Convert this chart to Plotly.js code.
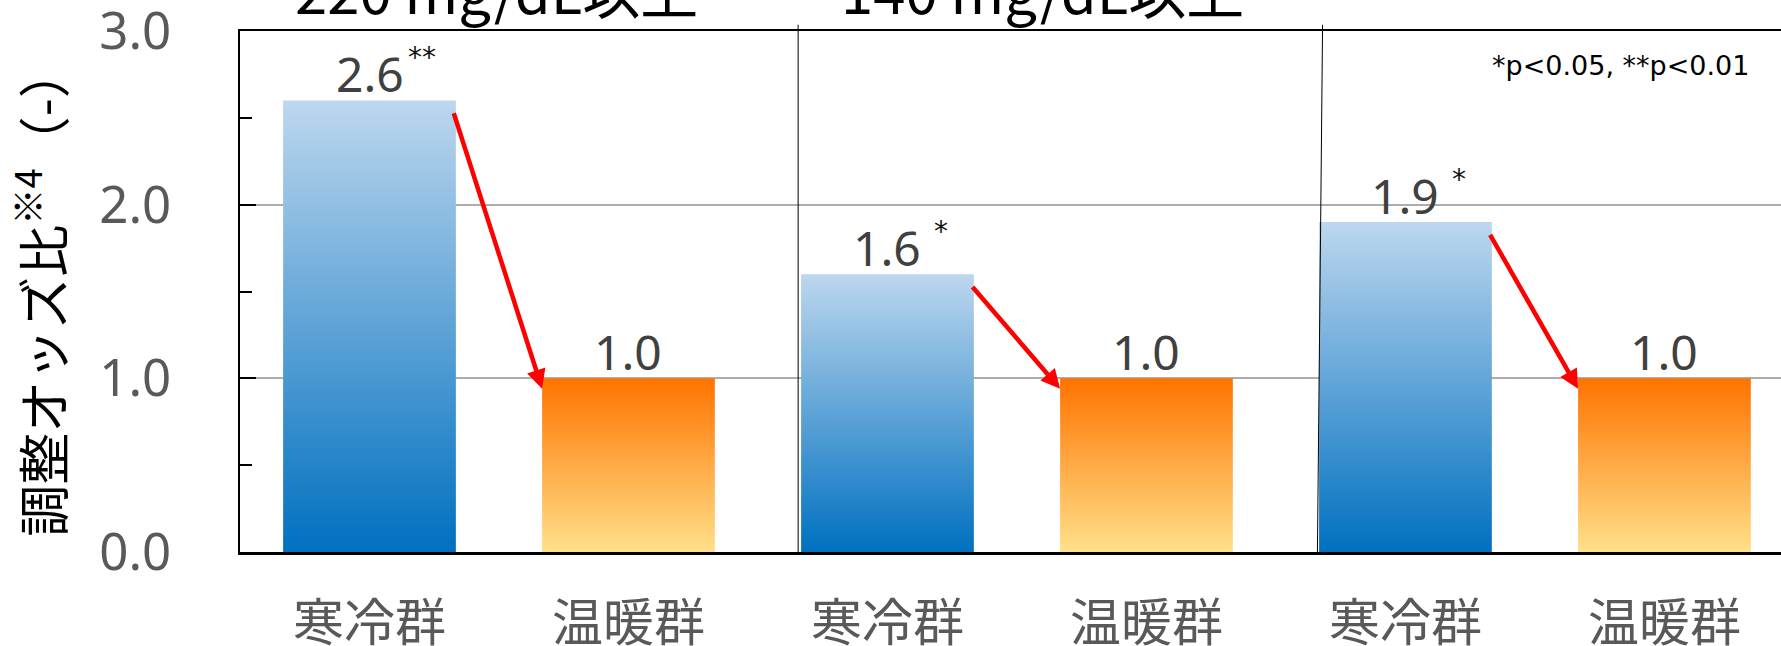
<!DOCTYPE html>
<html><head><meta charset="utf-8">
<script src="https://cdn.plot.ly/plotly-3.0.1.min.js"></script>
<style>html,body{margin:0;padding:0;background:#fff;} #chart{width:1781px;height:646px;}</style>
</head><body><div id="chart"></div>
<script>
// ---- data ----
const categories = ["寒冷群","温暖群","寒冷群","温暖群","寒冷群","温暖群"];
const groupTitles = ["220 mg/dL以上","140 mg/dL以上"];
const coldValues = [2.6, 1.6, 1.9];
const warmValues = [1.0, 1.0, 1.0];
const significance = ["**","*","*"];
const yTickVals = [0, 1, 2, 3];
const yTickText = ["0.0","1.0","2.0","3.0"];
const yTitle = "調整オッズ比<sup>※4</sup>（-）";
const pNote = "*p<0.05, **p<0.01";

// ---- derived ----
const catX = categories.map((_, i) => i);
const coldX = coldValues.map((_, i) => 2 * i);
const warmX = warmValues.map((_, i) => 2 * i + 1);
const barW = 0.667;
const numFont = "Noto Sans, Noto Sans CJK JP, sans-serif";
const cjkFont = "Noto Sans CJK JP, Noto Sans, sans-serif";

const traces = [
  {type: "bar", x: coldX, y: coldValues, width: barW, marker: {color: "#5B9BD5", line: {width: 0}}, hoverinfo: "skip"},
  {type: "bar", x: warmX, y: warmValues, width: barW, marker: {color: "#FFA64D", line: {width: 0}}, hoverinfo: "skip"}
];

const annotations = [];
// value labels
coldValues.forEach((v, i) => {
  annotations.push({x: coldX[i], y: v, xref: "x", yref: "y", text: v.toFixed(1), showarrow: false,
    yanchor: "bottom", xanchor: "center", yshift: -8, font: {family: numFont, size: 48, color: "#404040"}});
  annotations.push({x: coldX[i], y: v, xref: "x", yref: "y", text: (significance[i].length === 1 ? "\u00a0" : "") + significance[i],
    showarrow: false, yanchor: "bottom", xanchor: "left", xshift: 36, yshift: 24, font: {family: "DejaVu Sans, sans-serif", size: 28, color: "#111111"}});
});
warmValues.forEach((v, i) => {
  annotations.push({x: warmX[i], y: v, xref: "x", yref: "y", text: v.toFixed(1), showarrow: false,
    yanchor: "bottom", xanchor: "center", yshift: -8, font: {family: numFont, size: 48, color: "#404040"}});
});
// arrows
coldValues.forEach((v, i) => {
  annotations.push({x: warmX[i] - barW / 2, y: warmValues[i] - 0.06, xref: "x", yref: "y",
    ax: coldX[i] + barW / 2 - 0.01, ay: v - 0.065, axref: "x", ayref: "y",
    showarrow: true, text: "", arrowhead: 2, arrowsize: 0.85, arrowwidth: 4.5, arrowcolor: "#FF0000", standoff: 0, startstandoff: 0});
});
// group titles
const titleX = [0.49, 2.6];
groupTitles.forEach((t, i) => {
  annotations.push({x: titleX[i], y: 1, xref: "x", yref: "paper", text: t, showarrow: false,
    yanchor: "bottom", xanchor: "center", yshift: -2, font: {family: cjkFont, size: 58, color: "#000000"}});
});
// p-value note
annotations.push({x: 4.83, y: 2.8, xref: "x", yref: "y", text: pNote, showarrow: false,
  xanchor: "center", yanchor: "middle", font: {family: "DejaVu Sans, sans-serif", size: 27, color: "#000000"}});

const shapes = [
  {type: "line", xref: "x", yref: "paper", x0: 1.655, x1: 1.655, y0: -0.005, y1: 1.012, line: {color: "#000", width: 1}},
  {type: "line", xref: "x", yref: "paper", x0: 3.66, x1: 3.68, y0: -0.005, y1: 1.012, line: {color: "#000", width: 1}}
];

const layout = {
  width: 1781, height: 646,
  margin: {l: 240, r: 0, t: 31, b: 94, pad: 0},
  paper_bgcolor: "#ffffff", plot_bgcolor: "#ffffff",
  showlegend: false, barmode: "overlay",
  xaxis: {
    range: [-0.5, 5.45], tickmode: "array", tickvals: catX, ticktext: categories,
    showline: true, linecolor: "#000", linewidth: 2.5, mirror: true, ticks: "", showgrid: false, zeroline: false,
    tickfont: {family: cjkFont, size: 51, color: "#595959"}, ticklabelstandoff: 25, fixedrange: true
  },
  yaxis: {
    range: [0, 3], tickmode: "array", tickvals: yTickVals, ticktext: yTickText,
    showline: true, linecolor: "#000", linewidth: 2.5, mirror: false,
    ticks: "inside", ticklen: 16, tickwidth: 2, tickcolor: "#000",
    minor: {tickmode: "linear", tick0: 0, dtick: 0.5, ticks: "inside", ticklen: 12, tickwidth: 2, tickcolor: "#000", showgrid: false},
    showgrid: true, gridcolor: "#adadad", gridwidth: 2, zeroline: false,
    tickfont: {family: numFont, size: 51, color: "#595959"}, ticklabelstandoff: 56, ticklabeloverflow: "allow",
    title: {text: yTitle, font: {family: cjkFont, size: 52, color: "#000"}, standoff: 20},
    automargin: false, fixedrange: true
  },
  annotations: annotations,
  shapes: shapes
};

function applyGradients() {
  const svg = document.querySelector("#chart .main-svg");
  if (!svg) return;
  const ns = "http://www.w3.org/2000/svg";
  if (!document.getElementById("gradCold")) {
    const defs = document.createElementNS(ns, "defs");
    const mk = (id, c0, c1) => {
      const g = document.createElementNS(ns, "linearGradient");
      g.setAttribute("id", id); g.setAttribute("x1", "0"); g.setAttribute("y1", "0"); g.setAttribute("x2", "0"); g.setAttribute("y2", "1");
      [[0, c0], [1, c1]].forEach(([o, c]) => {
        const s = document.createElementNS(ns, "stop");
        s.setAttribute("offset", o); s.setAttribute("stop-color", c);
        g.appendChild(s);
      });
      defs.appendChild(g);
    };
    mk("gradCold", "#BDD7EE", "#0070C0");
    mk("gradWarm", "#FF7300", "#FFE08A");
    svg.insertBefore(defs, svg.firstChild);
  }
  const tr = document.querySelectorAll("#chart .barlayer .trace");
  if (tr[0]) tr[0].querySelectorAll("path").forEach(p => p.style.setProperty("fill", "url(#gradCold)"));
  if (tr[1]) tr[1].querySelectorAll("path").forEach(p => p.style.setProperty("fill", "url(#gradWarm)"));
}

Plotly.newPlot("chart", traces, layout, {staticPlot: true, displayModeBar: false}).then(gd => {
  applyGradients();
  gd.on("plotly_afterplot", applyGradients);
});
</script>
</body></html>
